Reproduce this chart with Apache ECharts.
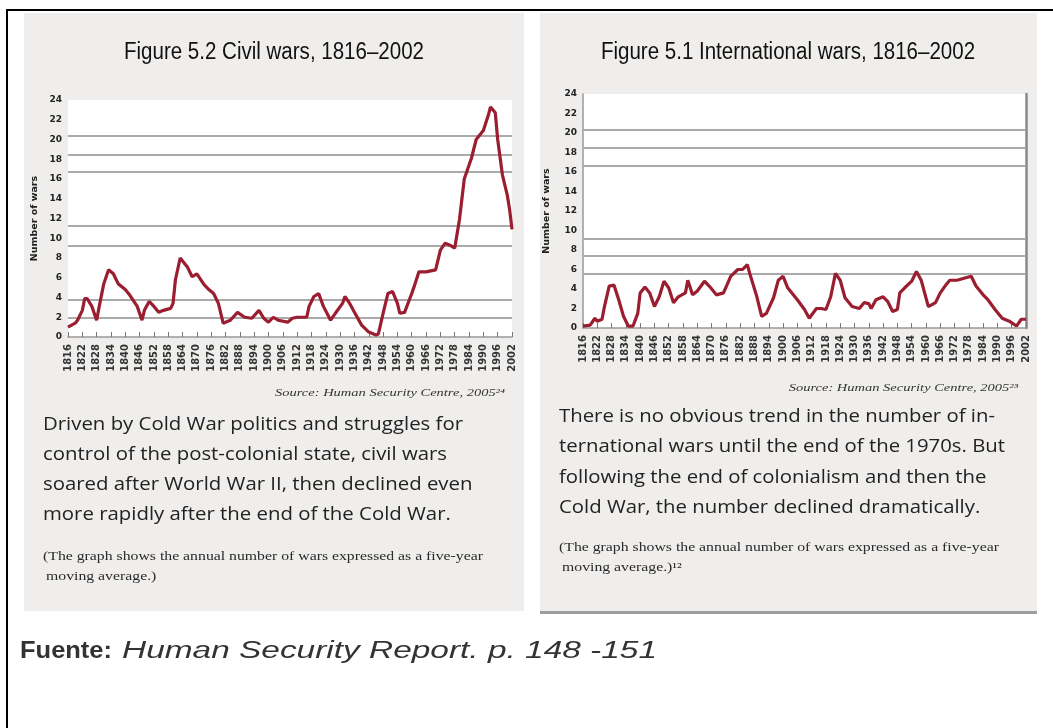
<!DOCTYPE html>
<html>
<head>
<meta charset="utf-8">
<script src="https://cdn.jsdelivr.net/npm/echarts@6/dist/echarts.min.js"></script>
<style>
    body { margin: 0; background: #fff; }
</style>
</head>
<body>
<div id="main" style="width: 1053px;height:728px;"></div>
<script type="text/javascript">

    // 数据: 五年移动平均的战争数量
    var firstYear = 1816;
    var lastYear = 2002;
    var yTicks = [0, 24, 2]; // min, max, interval

    var civilYears = [1816, 1819, 1820, 1822, 1823, 1824, 1826, 1828, 1829, 1831, 1833, 1835, 1837, 1840, 1842, 1845, 1847, 1848, 1850, 1852,
        1854, 1856, 1859, 1860, 1861, 1863, 1866, 1868, 1870, 1873, 1875, 1877, 1879, 1881, 1884, 1887, 1890, 1893, 1896, 1898,
        1900, 1902, 1904, 1908, 1910, 1912, 1916, 1917, 1919, 1921, 1923, 1926, 1928, 1931, 1932, 1934, 1936, 1939, 1942, 1945,
        1946, 1948, 1950, 1952, 1954, 1955, 1957, 1960, 1961, 1963, 1966, 1970, 1972, 1974, 1976, 1978, 1980, 1982, 1985, 1987,
        1990, 1992, 1993, 1995, 1996, 1998, 2000, 2001, 2002];
    var civilWars = [1.0, 1.4, 1.7, 2.7, 3.9, 3.9, 3.1, 1.7, 3.0, 5.4, 6.8, 6.4, 5.4, 4.8, 4.2, 3.1, 1.7, 2.7, 3.6, 3.1,
        2.5, 2.7, 2.9, 3.4, 5.8, 8.0, 7.1, 6.1, 6.4, 5.3, 4.8, 4.4, 3.4, 1.4, 1.7, 2.5, 2.0, 1.9, 2.7, 1.9,
        1.5, 2.0, 1.7, 1.5, 1.9, 2.0, 2.0, 3.1, 4.1, 4.4, 3.1, 1.7, 2.4, 3.4, 4.1, 3.4, 2.5, 1.2, 0.5, 0.2,
        0.3, 2.4, 4.4, 4.6, 3.4, 2.4, 2.5, 4.4, 5.1, 6.6, 6.6, 6.8, 8.8, 9.5, 9.3, 9.0, 11.9, 16.0, 18.1, 20.0,
        20.9, 22.4, 23.3, 22.7, 20.0, 16.4, 14.4, 12.9, 10.9];

    var intlYears = [1816, 1819, 1821, 1822, 1824, 1825, 1827, 1829, 1831, 1833, 1835, 1837, 1839, 1840, 1842, 1844, 1846, 1848, 1850, 1852,
        1854, 1856, 1859, 1860, 1862, 1864, 1867, 1869, 1872, 1875, 1878, 1881, 1883, 1885, 1886, 1889, 1891, 1893, 1896, 1898,
        1900, 1902, 1906, 1909, 1911, 1914, 1916, 1918, 1920, 1922, 1924, 1926, 1929, 1932, 1934, 1936, 1937, 1939, 1942, 1944,
        1946, 1948, 1949, 1951, 1954, 1956, 1958, 1961, 1964, 1966, 1968, 1970, 1973, 1976, 1979, 1981, 1984, 1986, 1989, 1992,
        1995, 1998, 2000, 2002];
    var intlWars = [0.2, 0.3, 1.0, 0.7, 0.9, 2.2, 4.3, 4.4, 2.9, 1.2, 0.2, 0.2, 1.5, 3.6, 4.2, 3.6, 2.2, 3.2, 4.8, 4.1,
        2.6, 3.2, 3.6, 4.9, 3.4, 3.8, 4.8, 4.3, 3.4, 3.6, 5.3, 6.0, 6.0, 6.5, 5.6, 3.2, 1.2, 1.5, 3.1, 4.9,
        5.3, 4.1, 2.9, 1.9, 1.0, 2.0, 2.0, 1.9, 3.2, 5.6, 4.9, 3.1, 2.2, 2.0, 2.6, 2.5, 2.0, 2.9, 3.2, 2.7,
        1.7, 1.9, 3.6, 4.1, 4.8, 5.8, 4.9, 2.2, 2.6, 3.6, 4.3, 4.9, 4.9, 5.1, 5.3, 4.3, 3.4, 2.9, 1.9, 1.0,
        0.7, 0.2, 0.9, 0.9];

    // 原图中网格线的位置 (并不和刻度对齐)
    var civilGrid = [2, 3.8, 9.2, 11.3, 16.7, 18.5, 20.4];
    var intlGrid = [5.6, 7.4, 9.2, 16.6, 18.5, 20.3];

    var titles = ['Figure 5.2 Civil wars, 1816\u20132002', 'Figure 5.1 International wars, 1816\u20132002'];
    var leftBody = ['Driven by Cold War politics and struggles for',
        'control of the post-colonial state, civil wars',
        'soared after World War II, then declined even',
        'more rapidly after the end of the Cold War.'];
    var rightBody = ['There is no obvious trend in the number of in-',
        'ternational wars until the end of the 1970s. But',
        'following the end of colonialism and then the',
        'Cold War, the number declined dramatically.'];
    var noteLine = '(The graph shows the annual number of wars expressed as a five-year';
    var sourceText = 'Source: Human Security Centre, 2005';

    var yearCats = [];
    for (var y = firstYear; y <= lastYear; y++) {
        yearCats.push(String(y));
    }

    function pairs(years, vals) {
        var out = [];
        for (var i = 0; i < years.length; i++) {
            out.push([String(years[i]), vals[i]]);
        }
        return out;
    }

    // 用canvas量文字宽度, 算出横向拉伸比例
    var mctx = document.createElement('canvas').getContext('2d');
    function stretch(text, font, width) {
        mctx.font = font;
        return width / mctx.measureText(text).width;
    }

    function txt(x, y, text, font, color, sx, align) {
        return {
            type: 'text', x: x, y: y, scaleX: sx, z: 20,
            style: { text: text, font: font, fill: color, textAlign: align || 'left', verticalAlign: 'middle' }
        };
    }

    var lineColor = '#9a1d30';
    var titleFont = '23px "Liberation Sans"';
    var bodyFont = '18px "Open Sans"';
    var noteFont = '12px "Liberation Serif"';
    var srcFont = 'italic 10px "Liberation Serif"';

    var titleScale = stretch(titles[0], titleFont, 300);
    var bodyScaleL = stretch(leftBody[0], bodyFont, 420);
    var bodyScaleR = stretch(rightBody[1], bodyFont, 446);
    var noteScale = stretch(noteLine, noteFont, 440);
    var srcScale = stretch(sourceText + '\u00b2\u2074', srcFont, 230);
    var fuenteBold = 'bold 23px "Liberation Sans"';
    var fuenteItal = 'italic 23px "Liberation Sans"';
    var fuenteRest = 'Human Security Report. p. 148 -151';

    var graphics = [
        { type: 'rect', z: -10, shape: { x: 24, y: 13, width: 500, height: 598 }, style: { fill: '#efeeec' } },
        { type: 'rect', z: -10, shape: { x: 540, y: 13, width: 497, height: 598 }, style: { fill: '#efeeec' } },
        { type: 'rect', z: -9, shape: { x: 540, y: 611, width: 497, height: 3 }, style: { fill: '#9d9d9d' } },
        { type: 'rect', z: 30, shape: { x: 7, y: 10, width: 1200, height: 900 }, style: { fill: null, stroke: '#000', lineWidth: 2 } },
        txt(274, 53, titles[0], titleFont, '#111', titleScale, 'center'),
        txt(788, 53, titles[1], titleFont, '#111', titleScale, 'center'),
        txt(505, 393, sourceText + '\u00b2\u2074', srcFont, '#333', srcScale, 'right'),
        txt(1018, 388, sourceText + '\u00b2\u00b3', srcFont, '#333', srcScale, 'right'),
        txt(43, 557, noteLine, noteFont, '#2a2a2a', noteScale),
        txt(46, 577, 'moving average.)', noteFont, '#2a2a2a', noteScale),
        txt(559, 548, noteLine, noteFont, '#2a2a2a', noteScale),
        txt(562, 568, 'moving average.)\u00b9\u00b2', noteFont, '#2a2a2a', noteScale),
        txt(20, 652, 'Fuente:', fuenteBold, '#333', stretch('Fuente:', fuenteBold, 92)),
        txt(122, 652, fuenteRest, fuenteItal, '#333', stretch(fuenteRest, fuenteItal, 535))
    ];
    var leftY = [425, 455, 485, 515];
    var rightY = [417, 447, 478, 508];
    for (var i = 0; i < 4; i++) {
        graphics.push(txt(43, leftY[i], leftBody[i], bodyFont, '#222', bodyScaleL));
        graphics.push(txt(559, rightY[i], rightBody[i], bodyFont, '#222', bodyScaleR));
    }

    function xAxisFor(idx) {
        return {
            type: 'category', gridIndex: idx, data: yearCats, boundaryGap: false,
            axisLine: { lineStyle: { color: '#999', width: 1.5 } },
            axisTick: { inside: true, length: 5, interval: 5, lineStyle: { color: '#777' } },
            axisLabel: { interval: 5, rotate: 90, margin: 7, fontSize: 10, fontWeight: 'bold', fontFamily: 'DejaVu Sans', color: '#333', hideOverlap: false },
            splitLine: { show: false }
        };
    }

    function yAxisFor(idx, gap, showLine) {
        return {
            type: 'value', gridIndex: idx, min: yTicks[0], max: yTicks[1], interval: yTicks[2],
            name: 'Number of wars', nameLocation: 'middle', nameGap: gap,
            nameTextStyle: { fontSize: 9.5, fontWeight: 'bold', fontFamily: 'DejaVu Sans', color: '#222' },
            axisLine: { show: showLine, lineStyle: { color: '#999', width: 1.5 } },
            axisTick: { show: false },
            splitLine: { show: false },
            axisLabel: { fontSize: 9, fontWeight: 'bold', fontFamily: 'DejaVu Sans', color: '#222', margin: 6 }
        };
    }

    function gridLines(vals) {
        var d = [];
        for (var i = 0; i < vals.length; i++) d.push({ yAxis: vals[i] });
        return {
            silent: true, symbol: 'none', label: { show: false }, animation: false,
            lineStyle: { color: '#aaa', width: 2, type: 'solid' }, emphasis: { disabled: true },
            data: d
        };
    }

    var myChart = echarts.init(document.getElementById('main'));

    var option = {
        animation: false,
        graphic: graphics,
        grid: [
            { left: 68, top: 100, width: 444, height: 237, show: true, backgroundColor: '#fff', borderWidth: 0 },
            { left: 583, top: 94, width: 443, height: 234, show: true, backgroundColor: '#fff', borderWidth: 0 }
        ],
        xAxis: [xAxisFor(0), xAxisFor(1)],
        yAxis: [
            yAxisFor(0, 28, false),
            yAxisFor(1, 31, true),
            {
                type: 'value', gridIndex: 1, position: 'right', min: yTicks[0], max: yTicks[1],
                axisLine: { show: true, lineStyle: { color: '#888', width: 2.5 } },
                axisLabel: { show: false }, axisTick: { show: false }, splitLine: { show: false }
            }
        ],
        series: [
            {
                type: 'line', xAxisIndex: 0, yAxisIndex: 0, z: 10,
                data: pairs(civilYears, civilWars), showSymbol: false, symbol: 'none',
                lineStyle: { color: lineColor, width: 3.2 },
                markLine: gridLines(civilGrid)
            },
            {
                type: 'line', xAxisIndex: 1, yAxisIndex: 1, z: 10,
                data: pairs(intlYears, intlWars), showSymbol: false, symbol: 'none',
                lineStyle: { color: lineColor, width: 3.2 },
                markLine: gridLines(intlGrid)
            }
        ]
    };
    myChart.setOption(option);
</script>
</body>
</html>
